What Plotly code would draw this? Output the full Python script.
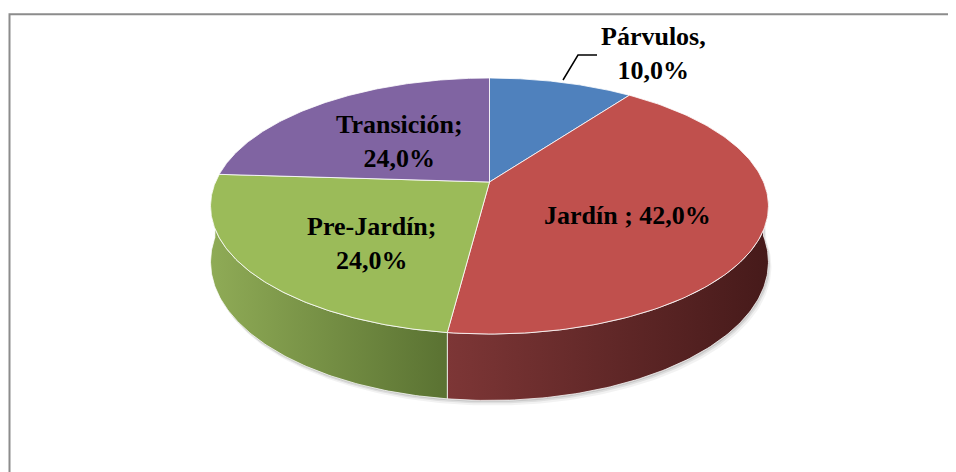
import numpy as np
import plotly.graph_objects as go

# ---- data ----
categories = ["Párvulos", "Jardín", "Pre-Jardín", "Transición"]
values = [10.0, 42.0, 24.0, 24.0]
label_templates = ["Párvulos,<br>{}", "Jardín ; {}", "Pre-Jardín;<br>{}", "Transición;<br>{}"]

# ---- styles ----
top_colors = ["#4F81BD", "#C0504D", "#9BBB59", "#8064A2"]
side_gradients = [("#2c4d74", "#1f3a5c"), ("#7d3636", "#461a1a"),
                  ("#8fab56", "#5a7232"), ("#4e3b66", "#3b2c4e")]
label_pos = [(653, 53), (627, 215), (372, 243), (399, 141)]

W, H = 956, 472
OFF = 8  # page body margin
CX, CY, RX, RY, K, D = 489.5, 182.0, 274.0, 123.5, 0.1875, 54.0


def proj(theta_deg, drop=0.0):
    t = np.radians(theta_deg)
    w = 1 + K * np.cos(t)
    x = CX + RX * np.sin(t) / w
    y = CY - RY * np.cos(t) / w + drop * D / w
    return x, y


total = sum(values)
bounds = [0.0]
for v in values:
    bounds.append(bounds[-1] + 360.0 * v / total)

fig = go.Figure()

# soft shadow under the visible side
th = np.linspace(90, 270, 200)
xt, yt = proj(th)
xb, yb = proj(th[::-1], 1.0)
for off, a in [(5, 0.05), (3, 0.08), (1.5, 0.10)]:
    fig.add_trace(go.Scatter(
        x=np.concatenate([xt, xb + off * 0.6]), y=np.concatenate([yt, yb + off]),
        fill="toself", fillcolor=f"rgba(0,0,0,{a})", line=dict(width=0),
        mode="lines", hoverinfo="skip", showlegend=False))

# sides (front half only)
for i, v in enumerate(values):
    a, b = max(bounds[i], 90.0), min(bounds[i + 1], 270.0)
    if b <= a:
        continue
    th = np.linspace(a, b, 120)
    xt, yt = proj(th)
    xb, yb = proj(th[::-1], 1.0)
    fig.add_trace(go.Scatter(
        x=np.concatenate([xt, xb, xt[:1]]), y=np.concatenate([yt, yb, yt[:1]]),
        fill="toself",
        fillgradient=dict(type="horizontal",
                          colorscale=[[0, side_gradients[i][0]], [1, side_gradients[i][1]]]),
        line=dict(color="rgba(255,255,255,0.75)", width=1),
        mode="lines", hoverinfo="skip", showlegend=False))

# top faces
for i, v in enumerate(values):
    th = np.linspace(bounds[i], bounds[i + 1], 150)
    xa, ya = proj(th)
    fig.add_trace(go.Scatter(
        x=np.concatenate([[CX], xa, [CX]]), y=np.concatenate([[CY], ya, [CY]]),
        fill="toself", fillcolor=top_colors[i],
        line=dict(color="rgba(255,255,255,0.8)", width=1),
        mode="lines", name=categories[i], hoverinfo="skip", showlegend=False))

# labels
for i, v in enumerate(values):
    pct = f"{v / total * 100:.1f}%".replace(".", ",")
    fig.add_annotation(x=label_pos[i][0], y=label_pos[i][1],
                       text="<b>" + label_templates[i].format(pct) + "</b>",
                       showarrow=False, xanchor="center", yanchor="middle",
                       font=dict(family="Liberation Serif", size=26, color="black"))

# leader line for Párvulos
fig.add_shape(type="path", path="M 563 80 L 578 55 L 597 55",
              line=dict(color="black", width=1.5), xref="x", yref="y")

# chart border
fig.add_shape(type="rect", x0=9.5, y0=14.3, x1=W + 20, y1=H + 20,
              line=dict(color="#8c8c8c", width=2), xref="x", yref="y", layer="above")

fig.update_layout(
    width=W, height=H, margin=dict(l=0, r=0, t=0, b=0),
    paper_bgcolor="white", plot_bgcolor="white",
    xaxis=dict(range=[OFF, W + OFF], visible=False, fixedrange=True),
    yaxis=dict(range=[H + OFF, OFF], visible=False, fixedrange=True),
)

fig.write_html("out.html")
